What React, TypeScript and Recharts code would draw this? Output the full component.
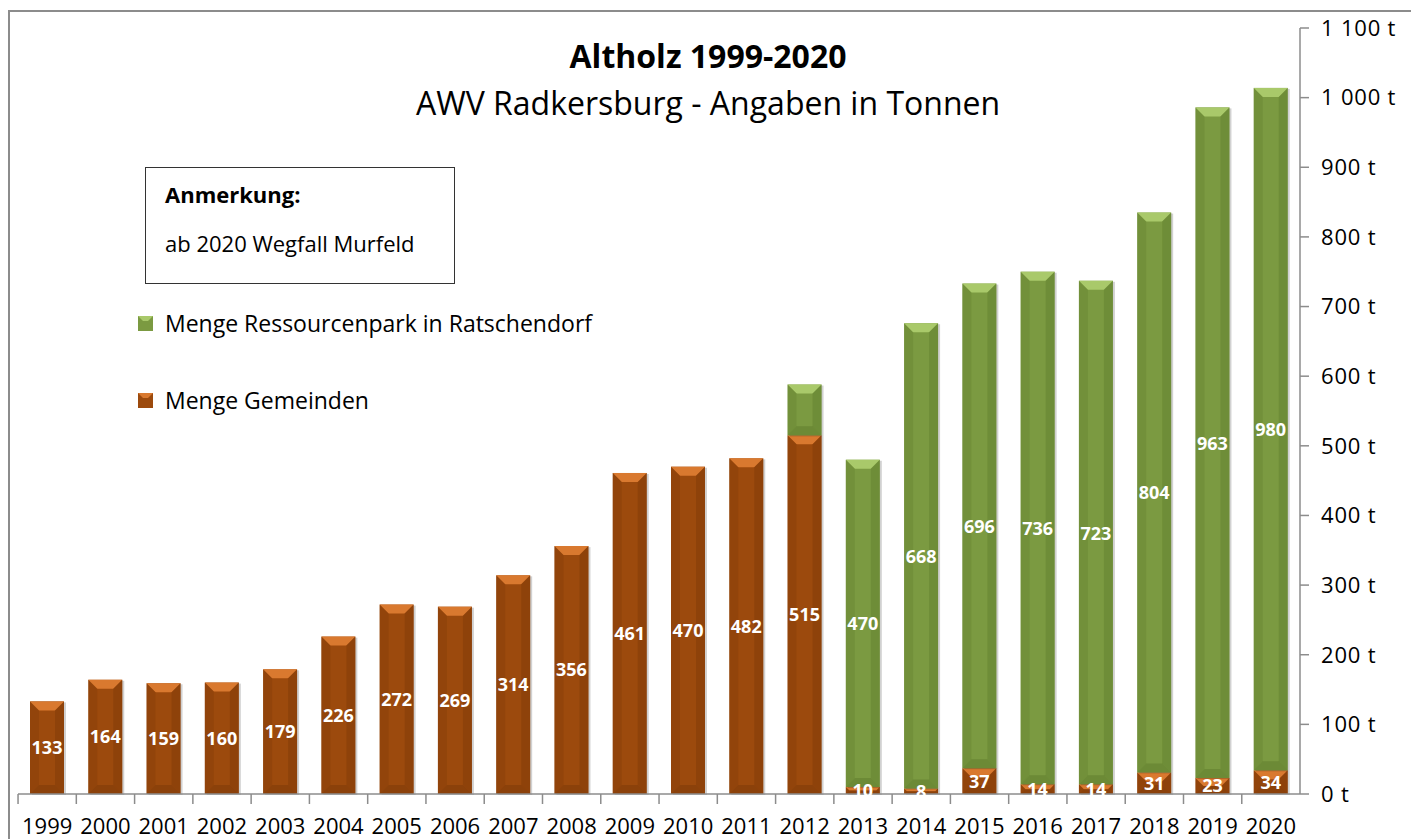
import React from "react";
import { BarChart, Bar, XAxis, YAxis, LabelList } from "recharts";

const years = [
  "1999", "2000", "2001", "2002", "2003", "2004", "2005", "2006", "2007", "2008", "2009",
  "2010", "2011", "2012", "2013", "2014", "2015", "2016", "2017", "2018", "2019", "2020",
];
const gemeinden = [133, 164, 159, 160, 179, 226, 272, 269, 314, 356, 461, 470, 482, 515, 10, 8, 37, 14, 14, 31, 23, 34];
const ressourcenpark = [0, 0, 0, 0, 0, 0, 0, 0, 0, 0, 0, 0, 0, 73, 470, 668, 696, 736, 723, 804, 963, 980];
const hiddenLabelYears = ["2012"];
const yTicks = [0, 100, 200, 300, 400, 500, 600, 700, 800, 900, 1000, 1100];

const data = years.map((year, i) => ({
  year,
  gemeinden: gemeinden[i],
  ressourcenpark: ressourcenpark[i] || null,
}));

const BROWN = { base: "#9c4a0d", light: "#d9792f", dark: "#7a3707" };
const GREEN = { base: "#7b9a41", light: "#a9c96a", dark: "#5d7a2b" };

const FONT = "'Open Sans', sans-serif";

function fmtTons(v: number) {
  const s = String(v).replace(/\B(?=(\d{3})+(?!\d))/g, "\u00a0");
  return `${s}\u00a0t`;
}

function makeShape(c: { base: string; light: string; dark: string }) {
  return (props: any) => {
    const { x, y, width: w, height: h } = props;
    if (!h || h <= 0) return null;
    const b = Math.min(9, h / 2, w / 2);
    return (
      <g>
        <rect x={x + 2} y={y + 1} width={w} height={h} fill="#000" opacity={0.18} />
        <rect x={x} y={y} width={w} height={h} fill={c.base} />
        <polygon
          points={`${x},${y} ${x + w},${y} ${x + w - b},${y + b} ${x + b},${y + b}`}
          fill={c.light}
        />
        <polygon
          points={`${x},${y} ${x + b},${y + b} ${x + b},${y + h - b} ${x},${y + h}`}
          fill={c.dark}
          opacity={0.3}
        />
        <polygon
          points={`${x + w},${y} ${x + w - b},${y + b} ${x + w - b},${y + h - b} ${x + w},${y + h}`}
          fill={c.dark}
          opacity={0.4}
        />
        <polygon
          points={`${x},${y + h} ${x + b},${y + h - b} ${x + w - b},${y + h - b} ${x + w},${y + h}`}
          fill={c.dark}
          opacity={0.5}
        />
      </g>
    );
  };
}

const XTick = (props: any) => {
  const { x, y, payload } = props;
  const step = 1280 / years.length;
  const left = x - step / 2;
  return (
    <g>
      <line x1={left} y1={y - 8} x2={left} y2={y + 2} stroke="#8c8c8c" strokeWidth={1.5} />
      <text x={x} y={y + 32} textAnchor="middle" fontSize={22} fontFamily={FONT} fill="#000">
        {payload.value}
      </text>
    </g>
  );
};

const labelStyle = {
  fill: "#fff",
  fontSize: 18,
  fontWeight: 700,
  fontFamily: FONT,
};

export default function App() {
  return (
    <div
      style={{
        position: "relative",
        width: 1402,
        height: 835,
        marginTop: 2,
        borderTop: "2px solid #8c8c8c",
        borderLeft: "2px solid #8c8c8c",
        borderRight: "2px solid #8c8c8c",
        fontFamily: FONT,
        background: "#fff",
      }}
    >
      <BarChart
        width={1402}
        height={830}
        data={data}
        margin={{ top: 16, right: 0, left: 8, bottom: 0 }}
        barSize={34}
      >
        <XAxis
          dataKey="year"
          axisLine={{ stroke: "#8c8c8c", strokeWidth: 1.5 }}
          tickLine={false}
          tick={<XTick />}
          height={48}
          interval={0}
        />
        <YAxis
          orientation="right"
          domain={[0, 1100]}
          ticks={yTicks}
          tickFormatter={fmtTons}
          axisLine={{ stroke: "#8c8c8c", strokeWidth: 1.5 }}
          tickLine={{ stroke: "#8c8c8c", strokeWidth: 1.5 }}
          tickSize={9}
          width={112}
          tick={{ fill: "#000", fontSize: 22, fontFamily: FONT, dx: 10, letterSpacing: 0.8 }}
          textAnchor="start"
        />
        <Bar dataKey="gemeinden" stackId="a" shape={makeShape(BROWN)} isAnimationActive={false}>
          <LabelList dataKey="gemeinden" position="center" style={labelStyle} />
        </Bar>
        <Bar dataKey="ressourcenpark" stackId="a" shape={makeShape(GREEN)} isAnimationActive={false}>
          <LabelList
            dataKey="ressourcenpark"
            position="center"
            content={(p: any) => {
              const { x, y, width, height, value, index } = p;
              if (!value || hiddenLabelYears.includes(years[index])) return null;
              return (
                <text
                  x={x + width / 2}
                  y={y + height / 2}
                  textAnchor="middle"
                  dominantBaseline="central"
                  {...labelStyle}
                >
                  {value}
                </text>
              );
            }}
          />
        </Bar>
      </BarChart>

      <div style={{ position: "absolute", left: 0, width: 1396, top: 24, textAlign: "center", fontSize: 32, fontWeight: 700, lineHeight: "40px" }}>
        Altholz 1999-2020
      </div>
      <div style={{ position: "absolute", left: 0, width: 1396, top: 71, textAlign: "center", fontSize: 32, lineHeight: "40px" }}>
        AWV Radkersburg - Angaben in Tonnen
      </div>

      <div
        style={{
          position: "absolute",
          left: 135,
          top: 155,
          width: 308,
          height: 115,
          border: "1.5px solid #333",
          fontSize: 22,
        }}
      >
        <div style={{ position: "absolute", left: 19, top: 11, fontWeight: 700 }}>Anmerkung:</div>
        <div style={{ position: "absolute", left: 19, top: 60 }}>ab 2020 Wegfall Murfeld</div>
      </div>

      <div style={{ position: "absolute", left: 128, top: 295, fontSize: 23, display: "flex", alignItems: "center" }}>
        <svg width={15} height={15} style={{ marginRight: 12 }}>
          <rect width={15} height={15} fill={GREEN.base} />
          <polygon points="0,0 15,0 10,5 5,5" fill={GREEN.light} />
        </svg>
        Menge Ressourcenpark in Ratschendorf
      </div>
      <div style={{ position: "absolute", left: 128, top: 372, fontSize: 23, display: "flex", alignItems: "center" }}>
        <svg width={15} height={15} style={{ marginRight: 12 }}>
          <rect width={15} height={15} fill={BROWN.base} />
          <polygon points="0,0 15,0 10,5 5,5" fill={BROWN.light} />
        </svg>
        Menge Gemeinden
      </div>
    </div>
  );
}
